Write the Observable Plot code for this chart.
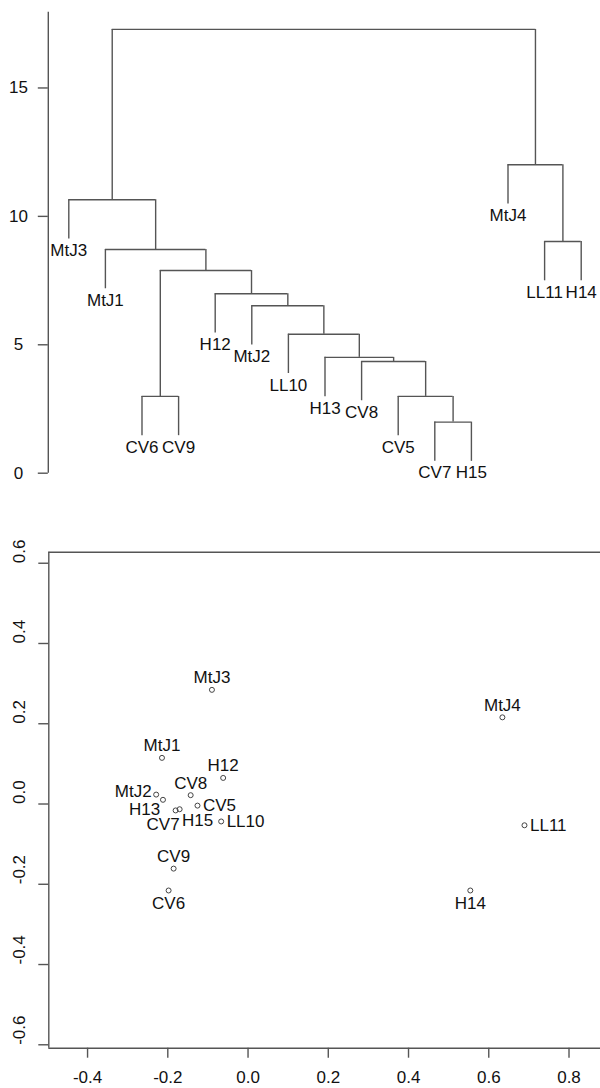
<!DOCTYPE html>
<html><head><meta charset="utf-8">
<script src="https://cdn.jsdelivr.net/npm/d3@7"></script>
<script src="https://cdn.jsdelivr.net/npm/@observablehq/plot@0.6"></script>
<style>body{margin:0;background:#fff;} svg{display:block}</style>
</head><body><div id="chart"></div>
<script>
// ---- Dendrogram data (leaf order as drawn, merges in order of height) ----
const leaves = ["MtJ3","MtJ1","CV6","CV9","H12","MtJ2","LL10","H13","CV8","CV5","CV7","H15","MtJ4","LL11","H14"];
const mergeA = ["CV7","CV6","CV5","CV8","H13","LL10","MtJ2","H12","m2","MtJ1","LL11","MtJ3","MtJ4","m12"];
const mergeB = ["H15","CV9","m1","m3","m4","m5","m6","m7","m8","m9","H14","m10","m11","m13"];
const mergeHeight = [1.99,2.99,2.99,4.35,4.51,5.41,6.52,6.99,7.89,8.71,9.02,10.65,12.01,17.28];
const heightTicks = [0,5,10,15];
const heightTop = 17.95;

// ---- Ordination data ----
const names = ["MtJ3","MtJ1","H12","CV8","MtJ2","H13","CV7","H15","CV5","LL10","MtJ4","LL11","H14","CV9","CV6"];
const dim1 = [-0.090,-0.2145,-0.062,-0.143,-0.229,-0.212,-0.1805,-0.1705,-0.126,-0.067,0.634,0.689,0.554,-0.1855,-0.198];
const dim2 = [0.2845,0.115,0.065,0.022,0.0235,0.0105,-0.016,-0.013,-0.004,-0.0435,0.216,-0.053,-0.2155,-0.161,-0.2155];
const labelPos = ["top","top","top","top","left","left-low","bottom-left","bottom-right","right","right","top","right","bottom","top","bottom"];
const xTicks = [-0.4,-0.2,0.0,0.2,0.4,0.6,0.8];
const yTicks = [-0.6,-0.4,-0.2,0.0,0.2,0.4,0.6];

// ---- styling ----
const FONT = "'Liberation Sans', Arial, Helvetica, sans-serif";
const LINE = "#555";
const TEXT = "#111";
const style = {fontFamily: FONT, fontSize: "17px", color: TEXT, background: "white"};

// ---- dendrogram layout (R plot.hclust logic) ----
const hang = 0.1 * (d3.max(mergeHeight) - d3.min(mergeHeight));
const node = new Map(leaves.map((l, i) => [l, {x: i + 1, h: null}]));
const hSeg = [], vSeg = [], leafLab = [];
mergeHeight.forEach((h, i) => {
  const [na, nb] = [mergeA[i], mergeB[i]];
  for (const nm of [na, nb]) {
    const c = node.get(nm);
    const bottom = c.h === null ? h - hang : c.h;
    vSeg.push({x: c.x, y1: bottom, y2: h});
    if (c.h === null) leafLab.push({x: c.x, y: bottom, name: nm});
  }
  const a = node.get(na), b = node.get(nb);
  hSeg.push({x1: a.x, x2: b.x, y: h});
  node.set("m" + (i + 1), {x: (a.x + b.x) / 2, h});
});
const nLeaves = leaves.length;
const xlim = [1 - 0.04 * (nLeaves - 1), nLeaves + 0.04 * (nLeaves - 1)];

const dendroPlot = Plot.plot({
  width: 600, height: 520,
  marginLeft: 47.8, marginRight: 0, marginTop: 11.7, marginBottom: 47.3,
  style,
  x: {domain: xlim, range: [47.8, 601.2], axis: null, label: null},
  y: {domain: [0, heightTop], range: [472.7, 11.7], axis: null, label: null},
  marks: [
    Plot.ruleX([{x: xlim[0], y1: 0, y2: heightTop}], {x: "x", y1: "y1", y2: "y2", stroke: LINE, strokeWidth: 1.4}),
    Plot.axisY({ticks: heightTicks, tickSize: 10, tickPadding: 19.8, textAnchor: "middle", stroke: LINE, strokeWidth: 1.4, fill: TEXT, label: null}),
    Plot.ruleY(hSeg, {x1: "x1", x2: "x2", y: "y", stroke: LINE, strokeWidth: 1.4}),
    Plot.ruleX(vSeg, {x: "x", y1: "y1", y2: "y2", stroke: LINE, strokeWidth: 1.4}),
    Plot.text(leafLab, {x: "x", y: "y", text: "name", lineAnchor: "top", dy: 5, fill: TEXT})
  ]
});

// ---- ordination plot ----
const pts = names.map((nm, i) => ({name: nm, x: dim1[i], y: dim2[i], pos: labelPos[i]}));
const placements = {
  "top": {textAnchor: "middle", dx: 0, dy: -12},
  "bottom": {textAnchor: "middle", dx: 0, dy: 13},
  "left": {textAnchor: "end", dx: -4.5, dy: -2.8},
  "right": {textAnchor: "start", dx: 5.5, dy: 0},
  "left-low": {textAnchor: "end", dx: -2.7, dy: 9.6},
  "bottom-left": {textAnchor: "end", dx: 4, dy: 14.2},
  "bottom-right": {textAnchor: "start", dx: 2.4, dy: 11.3}
};
const xdom = [-0.4966, 0.8785];
const ydom = [-0.6085, 0.6275];
const ordPlot = Plot.plot({
  width: 600, height: 568,
  marginLeft: 48.3, marginRight: 0, marginTop: 31.7, marginBottom: 40.3,
  style,
  x: {domain: xdom, axis: null, label: null},
  y: {domain: ydom, axis: null, label: null},
  marks: [
    Plot.ruleX([xdom[0]], {stroke: LINE, strokeWidth: 1.4}),
    Plot.ruleY(ydom, {stroke: LINE, strokeWidth: 1.4}),
    Plot.axisY({ticks: yTicks, tickSize: 10, tickFormat: () => "", stroke: LINE, strokeWidth: 1.4, label: null}),
    Plot.text(yTicks, {y: d => d, text: d => d.toFixed(1), frameAnchor: "left", rotate: -90, dx: -29.1, fill: TEXT}),
    Plot.axisX({ticks: xTicks, tickSize: 10, tickPadding: 13, tickFormat: d => d.toFixed(1), stroke: LINE, strokeWidth: 1.4, fill: TEXT, label: null}),
    Plot.dot(pts, {x: "x", y: "y", r: 2.5, stroke: "#444", strokeWidth: 1, fill: "none"}),
    ...Object.entries(placements).map(([k, p]) =>
      Plot.text(pts.filter(d => d.pos === k), {x: "x", y: "y", text: "name", fill: TEXT, ...p}))
  ]
});

const root = document.getElementById("chart");
root.appendChild(dendroPlot);
root.appendChild(ordPlot);
</script>
</body></html>
